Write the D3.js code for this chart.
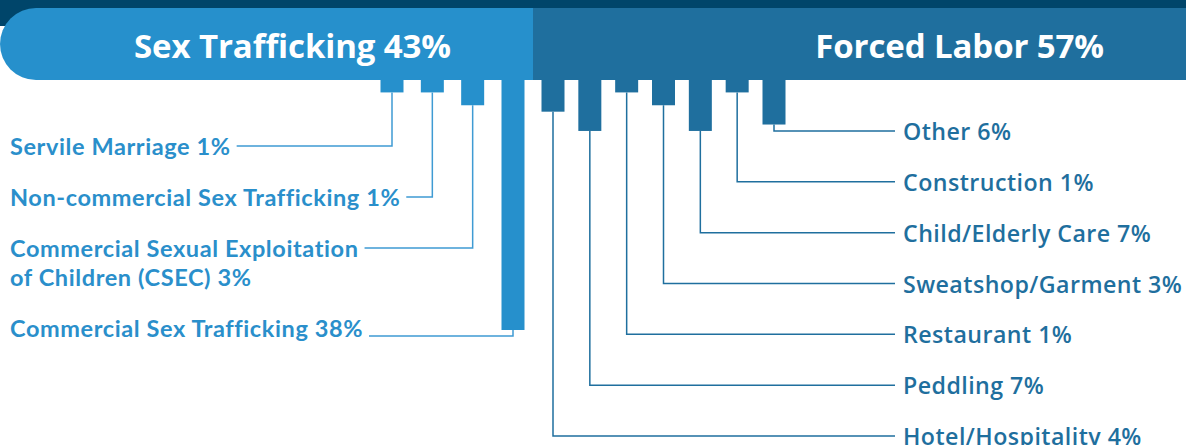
<!DOCTYPE html>
<html>
<head>
<meta charset="utf-8">
<script src="https://cdn.jsdelivr.net/npm/d3@7"></script>
<style>
  body { margin: 0; background: #fff; }
  svg { display: block; }
</style>
</head>
<body>
<div id="chart"></div>
<script>
// groups shown in the header band
const groupNames = ["Sex Trafficking", "Forced Labor"];
const groupShares = [43, 57];

// sex trafficking sub-types, left to right
const sexTypes = ["Servile Marriage", "Non-commercial Sex Trafficking", "Commercial Sexual Exploitation of Children (CSEC)", "Commercial Sex Trafficking"];
const sexLabelLines = [["Servile Marriage 1%"], ["Non-commercial Sex Trafficking 1%"], ["Commercial Sexual Exploitation", "of Children (CSEC) 3%"], ["Commercial Sex Trafficking 38%"]];
const sexValues = [1, 1, 3, 38];

// forced labor sub-types, left to right
const laborTypes = ["Hotel/Hospitality", "Peddling", "Restaurant", "Sweatshop/Garment", "Child/Elderly Care", "Construction", "Other"];
const laborValues = [4, 7, 1, 3, 7, 1, 6];

const W = 1186, H = 445;
const sexColor = "#2690cc", laborColor = "#1f6f9e", topColor = "#00456a";
const bandTop = 8, bandBottom = 80;
const barW = 23;

const svg = d3.select("#chart").append("svg")
    .attr("width", W)
    .attr("height", H);

// bar positions
const xSex = d3.scalePoint().domain(sexTypes).range([392, 513]);
const xLabor = d3.scalePoint().domain(laborTypes).range([553, 774]);
// bar length below the band
const len = d3.scaleLinear().domain([0, 38]).range([6, 250]);

const split = (xSex(sexTypes[sexTypes.length - 1]) + xLabor(laborTypes[0])) / 2;

// header band
svg.append("rect")
    .attr("x", 0).attr("y", 0)
    .attr("width", W).attr("height", 26)
    .attr("fill", topColor);

const r = (bandBottom - bandTop) / 2;
svg.append("rect")
    .attr("x", split).attr("y", bandTop)
    .attr("width", W - split).attr("height", bandBottom - bandTop)
    .attr("fill", laborColor);
svg.append("path")
    .attr("d", `M${r},${bandTop} H${split} V${bandBottom} H${r} A${r},${r} 0 0 1 ${r},${bandTop} Z`)
    .attr("fill", sexColor);

const headerEnds = [split - 82, W - 82];
svg.selectAll(".head")
  .data(groupNames)
  .enter().append("text")
    .attr("class", "head")
    .attr("x", (d, i) => headerEnds[i])
    .attr("y", (bandTop + bandBottom) / 2 + 1)
    .attr("text-anchor", "end")
    .attr("dominant-baseline", "central")
    .attr("fill", "#fff")
    .style("font", "700 33px 'Open Sans', sans-serif")
    .style("letter-spacing", "-0.1px")
    .text((d, i) => d + " " + groupShares[i] + "%");

// bars
svg.selectAll(".sexbar")
  .data(sexTypes)
  .enter().append("rect")
    .attr("x", d => xSex(d) - barW / 2)
    .attr("y", bandBottom - 1)
    .attr("width", barW)
    .attr("height", (d, i) => len(sexValues[i]) + 1)
    .attr("fill", sexColor);

svg.selectAll(".laborbar")
  .data(laborTypes)
  .enter().append("rect")
    .attr("x", d => xLabor(d) - barW / 2)
    .attr("y", bandBottom - 1)
    .attr("width", barW)
    .attr("height", (d, i) => len(laborValues[i]) + 1)
    .attr("fill", laborColor);

// left labels + connectors
const lineGap = 29, rowGap = 51;
let rowY = 146;
sexTypes.forEach((t, i) => {
  const lines = sexLabelLines[i];
  const g = svg.append("g");
  const txt = g.append("text")
      .attr("fill", "#2a8fcb")
      .style("font", "700 23.5px Lato, sans-serif")
      .style("letter-spacing", "0.6px");
  lines.forEach((s, j) => {
    txt.append("tspan")
      .attr("x", 10)
      .attr("y", rowY + j * lineGap)
      .attr("dominant-baseline", "central")
      .text(s);
  });
  const firstW = txt.select("tspan").node().getComputedTextLength();
  const bx = xSex(t);
  const bottom = bandBottom + len(sexValues[i]);
  const ly = Math.max(rowY, bottom + 6);
  g.append("path")
      .attr("d", `M${bx},${bottom} V${ly} H${10 + firstW + 6}`)
      .attr("fill", "none")
      .attr("stroke", "#3f9bd3")
      .attr("stroke-width", 1.5);
  rowY += rowGap + (lines.length - 1) * lineGap;
});

// right labels + connectors
const yLabor = d3.scalePoint().domain(laborTypes.slice().reverse()).range([131, 436]);
laborTypes.forEach((t, i) => {
  const bx = xLabor(t);
  const bottom = bandBottom + len(laborValues[i]);
  const ly = yLabor(t);
  svg.append("path")
      .attr("d", `M${bx},${bottom} V${ly} H${895}`)
      .attr("fill", "none")
      .attr("stroke", laborColor)
      .attr("stroke-width", 1.5);
  svg.append("text")
      .attr("x", 903)
      .attr("y", ly)
      .attr("dominant-baseline", "central")
      .attr("fill", laborColor)
      .style("font", "600 23.2px 'Open Sans', sans-serif")
      .style("letter-spacing", "0.45px")
      .text(t + " " + laborValues[i] + "%");
});
</script>
</body>
</html>
